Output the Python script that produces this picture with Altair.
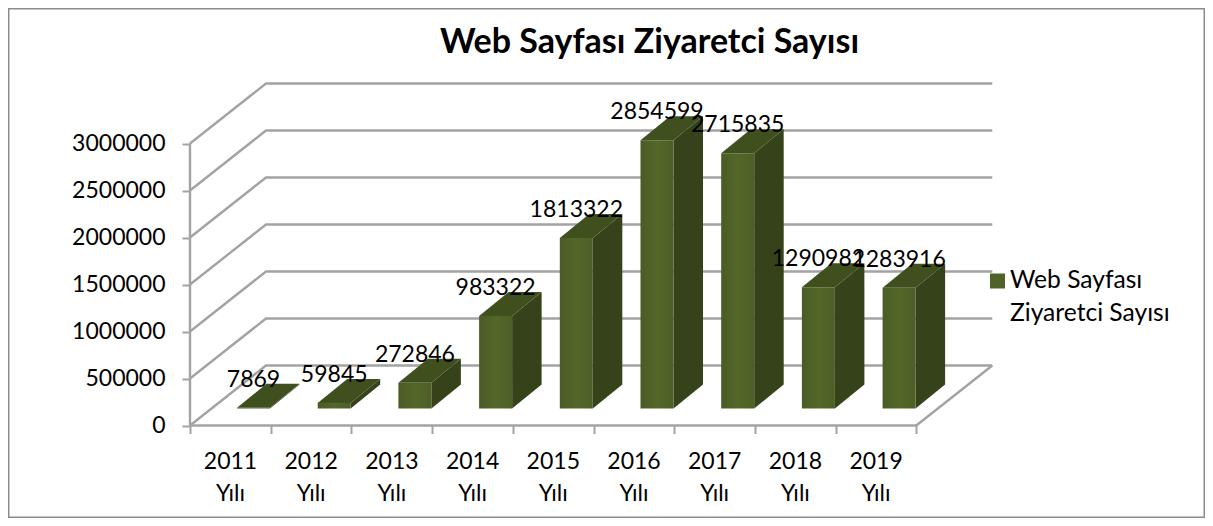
import json
import altair as alt
import pandas as pd

title_text = "Web Sayfası Ziyaretci Sayısı"
years = ["2011", "2012", "2013", "2014", "2015", "2016", "2017", "2018", "2019"]
visits = [7869, 59845, 272846, 983322, 1813322, 2854599, 2715835, 1290982, 1283916]
y_ticks = [0, 500000, 1000000, 1500000, 2000000, 2500000, 3000000]
legend_lines = ["Web Sayfası", "Ziyaretci Sayısı"]

W, H = 1197, 510
PX_X = 80.7               # pixels per category
PX_Y = 47 / 500000        # pixels per unit of value
ORIGIN_X, ORIGIN_Y = 182, 417.5
FONT = "Lato"
FS = 23
GRID = "#a3a3a3"
FRONT, SIDE, TOP = "#4f6228", "#36431a", "#404f1e"

x_scale = alt.Scale(domain=[-ORIGIN_X / PX_X, (W - ORIGIN_X) / PX_X], nice=False, zero=False)
y_scale = alt.Scale(domain=[(ORIGIN_Y - H) / PX_Y, ORIGIN_Y / PX_Y], nice=False, zero=False)
X = lambda f, **k: alt.X(f, type="quantitative", scale=x_scale, title=None, **k)
Y = lambda f, **k: alt.Y(f, type="quantitative", scale=y_scale, title=None, **k)

# chart depth, in data units
WALL_DX, WALL_DY = 76 / PX_X, 60 / PX_Y
BAR_DX, BAR_DY = 29.5 / PX_X, 24 / PX_Y
BAR_L, BAR_W = 47 / PX_X, 33 / PX_X
BASE = 17 / PX_Y
N = len(years)

# walls and floor
grid_rows = []
for v in y_ticks:
    grid_rows += [
        dict(g=v, o=0, x=0, y=v),
        dict(g=v, o=1, x=WALL_DX, y=v + WALL_DY),
        dict(g=v, o=2, x=N + WALL_DX, y=v + WALL_DY),
    ]
grid_rows += [
    dict(g="floor", o=0, x=0, y=0),
    dict(g="floor", o=1, x=N, y=0),
    dict(g="floor", o=2, x=N + WALL_DX, y=WALL_DY),
    dict(g="wall", o=0, x=0, y=0),
    dict(g="wall", o=1, x=0, y=y_ticks[-1]),
]
grid = alt.Chart(pd.DataFrame(grid_rows)).mark_line(color=GRID, strokeWidth=2.4).encode(
    x=X("x"), y=Y("y"), detail="g:N", order="o:Q"
)

axis_common = dict(domain=False, grid=False, ticks=True, tickColor=GRID, tickWidth=2, tickSize=8,
                   labelFont=FONT, labelFontSize=FS, labelColor="black")
x_label_expr = f"datum.value < {N} ? [{json.dumps(years)}[datum.value], 'Yılı'] : ''"
axes = alt.Chart(pd.DataFrame({"x": [0], "y": [0]})).mark_point(opacity=0).encode(
    x=X("x", axis=alt.Axis(values=list(range(N + 1)), offset=ORIGIN_Y - H, labelExpr=x_label_expr,
                           labelOffset=40, labelPadding=17, labelLineHeight=32, labelOverlap=False,
                           labelFlush=False, labelBound=False, labelBaseline="top", **axis_common)),
    y=Y("y", axis=alt.Axis(values=y_ticks, offset=-ORIGIN_X, labelPadding=17, format="d",
                           labelOverlap=False, labelFlush=False, labelBound=False, **axis_common)),
)

# bars
bars = pd.DataFrame({"year": years, "v": visits})
bars["x0"] = [i + BAR_L for i in range(N)]
bars["x1"] = bars["x0"] + BAR_W
bars["y0"] = BASE
bars["y1"] = BASE + bars["v"]
bars["xc"] = bars["x0"] + BAR_W / 2

side_rows, top_rows = [], []
for r in bars.itertuples():
    side_rows += [
        dict(b=r.year, x=r.x1, lo=r.y0, hi=r.y1),
        dict(b=r.year, x=r.x1 + BAR_DX, lo=r.y0 + BAR_DY, hi=r.y1 + BAR_DY),
    ]
    top_rows += [
        dict(b=r.year, y=r.y1, x=r.x0, x2=r.x1),
        dict(b=r.year, y=r.y1 + BAR_DY, x=r.x0 + BAR_DX, x2=r.x1 + BAR_DX),
    ]
side = alt.Chart(pd.DataFrame(side_rows)).mark_area(color=SIDE).encode(
    x=X("x"), y=Y("lo"), y2="hi", detail="b:N"
)
top = alt.Chart(pd.DataFrame(top_rows)).mark_area(color=TOP, orient="horizontal").encode(
    y=Y("y"), x=X("x"), x2="x2", detail="b:N"
)
front_fill = alt.Gradient(
    gradient="linear", x1=0, x2=1, y1=0, y2=0,
    stops=[alt.GradientStop(color="#4a5c26", offset=0),
           alt.GradientStop(color="#536729", offset=0.5),
           alt.GradientStop(color="#4c5f27", offset=1)],
)
front = alt.Chart(bars).mark_rect(color=front_fill).encode(
    x=X("x0"), x2="x1", y=Y("y0"), y2="y1"
)
labels = alt.Chart(bars).mark_text(font=FONT, fontSize=FS, color="black", dy=-28).encode(
    x=X("xc"), y=Y("y1"), text=alt.Text("v:Q", format="d")
)

# legend, placed in data units at the right of the plot
LEG_X = (990 - 190) / PX_X
leg_swatch = alt.Chart(pd.DataFrame({"x": [LEG_X], "x2": [LEG_X + 15 / PX_X],
                                     "y": [(425 - 273) / 47 * 500000], "y2": [(425 - 288) / 47 * 500000]})
                       ).mark_rect(color=FRONT).encode(x=X("x"), x2="x2", y=Y("y"), y2="y2")
leg_text = alt.Chart(pd.DataFrame({"t": legend_lines, "x": [LEG_X + 20 / PX_X] * 2,
                                   "y": [(425 - 280) / 47 * 500000, (425 - 313) / 47 * 500000]})
                     ).mark_text(font=FONT, fontSize=24.6, color="black", align="left").encode(
    x=X("x"), y=Y("y"), text="t:N"
)

chart = alt.layer(grid, axes, side, top, front, labels, leg_swatch, leg_text).properties(
    width=W, height=H,
    padding=0,
    autosize=alt.AutoSizeParams(type="none"),
    background="white",
    title=alt.TitleParams(title_text, font=FONT, fontSize=34, fontWeight="bold", color="black",
                          anchor="middle", dx=43, dy=79, offset=0, baseline="alphabetic"),
).configure_view(stroke="#8c8c8c", strokeWidth=3)

chart.save("out.html", embed_options={"renderer": "svg", "actions": False})
